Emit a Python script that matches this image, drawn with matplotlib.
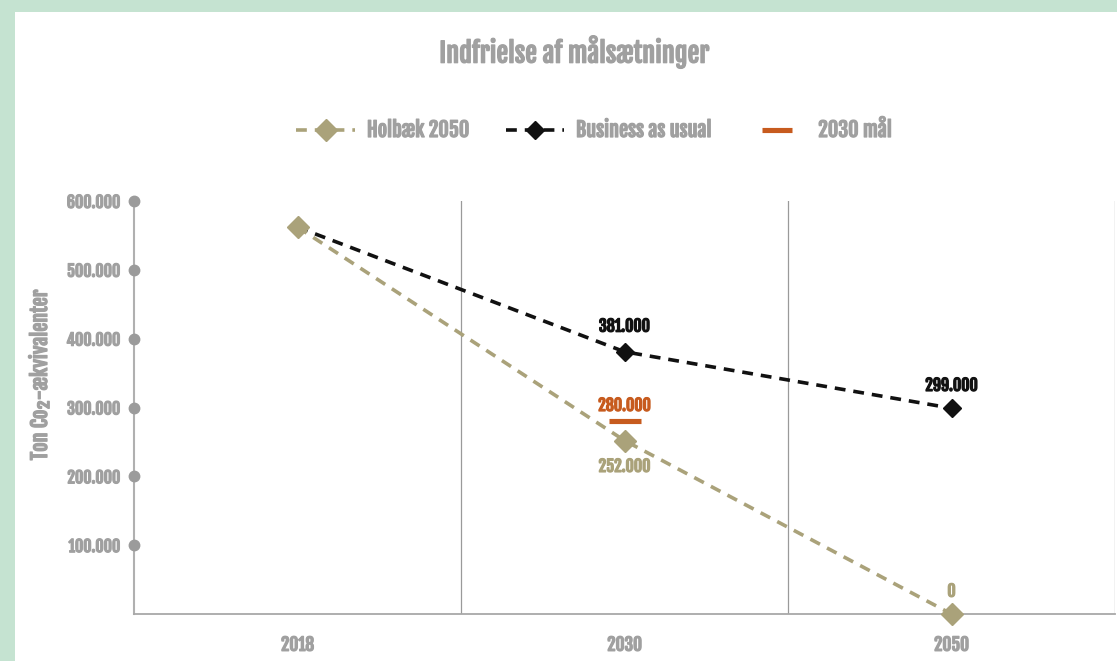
import os
import matplotlib
matplotlib.use("Agg")
from matplotlib import pyplot as plt
from matplotlib import font_manager as fm
from matplotlib import patheffects as pe
from matplotlib.patches import Rectangle
from matplotlib.text import Text
import numpy as np

# data
years = ["2018", "2030", "2050"]
holbaek = [562000, 252000, 0]
business = [562000, 381000, 299000]
goal_2030 = 280000
y_ticks = [100000, 200000, 300000, 400000, 500000, 600000]

OLIVE = "#aaa27a"
BLACK = "#111111"
ORANGE = "#c75b1e"
GRAY = "#a0a0a0"

# condensed display font, falls back to DejaVu if missing
FONT = ["DejaVu Sans"]
for path in ["/usr/share/fonts/truetype/google-fonts/FjallaOne-Regular.ttf",
             "/usr/share/fonts/truetype/roboto/unhinted/RobotoCondensed-Bold.ttf"]:
    if os.path.exists(path):
        fm.fontManager.addfont(path)
        FONT = [fm.FontProperties(fname=path).get_name(), "DejaVu Sans"]
        break

plt.rcParams["font.family"] = FONT
plt.rcParams["font.weight"] = "normal"


def fmt(v):
    return f"{v:,.0f}".replace(",", ".")


fig = plt.figure(figsize=(11.17, 6.61), dpi=100)
fig.patch.set_facecolor("#c5e3d1")
fig.patches.append(Rectangle((15 / 1117, 0), 1, 1 - 12 / 661, transform=fig.transFigure,
                             facecolor="white", edgecolor="none", zorder=-5))

ax = fig.add_axes([134 / 1117, 47 / 661, 981 / 1117, 413 / 661])
ax.set_facecolor("none")
x = np.arange(len(years))

ax.plot(x, business, ls=(0, (3, 2.2)), lw=2.6, color=BLACK, marker="D", ms=9.5,
        mec=BLACK, clip_on=False, zorder=3, label="Business as usual")
ax.plot(x, holbaek, ls=(0, (3, 2.2)), lw=2.6, color=OLIVE, marker="D", ms=11.5,
        mec=OLIVE, clip_on=False, zorder=4, label="Holbæk 2050")
ax.plot([1], [goal_2030], ls="none", marker="_", ms=23, mew=3.7, color=ORANGE,
        zorder=5, label="2030 mål")

# data labels
lab = dict(ha="center", va="center", fontsize=11.5, textcoords="offset points")
ax.annotate(fmt(business[1]), (1, business[1]), xytext=(0, 18), color=BLACK, **lab)
ax.annotate(fmt(business[2]), (2, business[2]), xytext=(0, 16), color=BLACK, **lab)
ax.annotate(fmt(goal_2030), (1, goal_2030), xytext=(0, 11), color=ORANGE, **lab)
ax.annotate(fmt(holbaek[1]), (1, holbaek[1]), xytext=(0, -19), color=OLIVE, **lab)
ax.annotate(fmt(holbaek[2]), (2, holbaek[2]), xytext=(0, 16), color=OLIVE, **lab)

ax.set_xlim(-0.5, len(years) - 0.5)
ax.set_ylim(0, 600000)

# vertical separators between categories
for b in np.arange(0.5, len(years), 1):
    ax.axvline(b, color="#9a9a9a", lw=0.9, zorder=1)

for s in ["top", "right"]:
    ax.spines[s].set_visible(False)
ax.spines["left"].set_color("#b0b0b0")
ax.spines["left"].set_linewidth(1.5)
ax.spines["bottom"].set_color("#a8a8a8")
ax.spines["bottom"].set_linewidth(1.3)

ax.set_yticks(y_ticks)
ax.set_yticklabels([fmt(v) for v in y_ticks])
ax.plot(np.full(len(y_ticks), -0.5), y_ticks, ls="none", marker="o", ms=7.5,
        color="#9b9b9b", clip_on=False, zorder=6)
ax.tick_params(axis="y", length=0, pad=10, labelcolor=GRAY, labelsize=11.5)
ax.set_xticks(x)
ax.set_xticklabels(years)
ax.tick_params(axis="x", length=0, pad=15, labelcolor=GRAY, labelsize=12.5)

fig.text(40 / 1117, 1 - 375 / 661, "Ton Co₂-ækvivalenter", rotation=90, ha="center",
         va="center", color=GRAY, fontsize=14.5)

fig.text(574 / 1117, 1 - 52 / 661, "Indfrielse af målsætninger", ha="center", va="center",
         color=GRAY, fontsize=19)

h, l = ax.get_legend_handles_labels()
order = [1, 0, 2]
leg = fig.legend([h[i] for i in order], [l[i] for i in order], loc="center",
                 bbox_to_anchor=(594 / 1117, 1 - 130 / 661), ncol=3, frameon=False,
                 handlelength=2.9, handletextpad=0.6, columnspacing=1.8,
                 fontsize=14.5, markerscale=0.95)
for t in leg.get_texts():
    t.set_color(GRAY)

# thicken the condensed font a little so it reads as bold
for t in fig.findobj(Text):
    if t.get_text():
        t.set_path_effects([pe.withStroke(linewidth=0.9, foreground=t.get_color())])

fig.savefig("out.png", dpi=100)
